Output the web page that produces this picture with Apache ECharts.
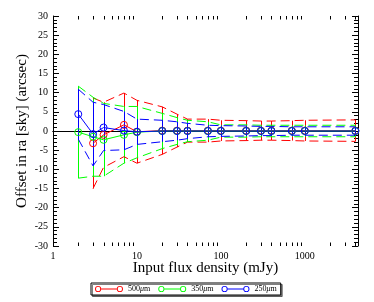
<!DOCTYPE html>
<html>
<head>
<meta charset="utf-8">
<script src="https://cdn.jsdelivr.net/npm/echarts@6/dist/echarts.min.js"></script>
<style>
html,body{margin:0;padding:0;background:#fff;}
#chart{width:374px;height:302px;}
</style>
</head>
<body>
<div id="chart"></div>
<script>
// ---- data ----
var fluxes = [2, 3, 4, 7, 10, 20, 30, 40, 70, 100, 200, 300, 400, 700, 1000, 4000];

var red500Offset = [null, -3.2, -1.0, 1.6, -0.2, 0.1, 0.1, 0.1, 0.1, 0.1, 0.1, 0.1, 0.1, 0.1, 0.1, 0.1];
var red500Error  = [null, 11.8, 8.5, 8.3, 8.2, 6.2, 4.3, 3.0, 3.0, 2.7, 2.6, 2.5, 2.5, 2.6, 2.7, 2.8];

var green350Offset = [-0.3, -1.5, -2.3, -1.0, -0.3, 0.0, 0.0, 0.0, 0.0, 0.0, 0.0, 0.0, 0.0, 0.0, 0.0, 0.0];
var green350Error  = [12.0, 10.3, 9.5, 7.4, 6.7, 4.6, 3.5, 2.8, 2.4, 1.6, 1.6, 1.5, 1.5, 1.5, 1.5, 1.5];

var blue250Offset = [4.4, -0.8, 0.9, 0.1, -0.2, 0.0, 0.0, 0.0, 0.0, 0.0, 0.0, 0.0, 0.0, 0.0, 0.0, 0.0];
var blue250Error  = [6.5, 8.3, 6.0, 5.0, 3.3, 2.8, 2.4, 2.0, 1.5, 1.4, 1.3, 1.2, 1.2, 1.1, 1.1, 1.1];

var seriesNames = ['500μm', '350μm', '250μm'];
var xMinorTicks = [2,3,4,5,6,7,8,9,20,30,40,50,60,70,80,90,200,300,400,500,600,700,800,900,2000,3000,4000];
var xMin = 1, xMax = 4300;
var yMin = -30, yMax = 30, yStep = 5, yMinorStep = 1;

// ---- build ----
var colors = ['#ff0000', '#00ff00', '#0000ff'];
var groups = [
  {name: seriesNames[0], val: red500Offset, err: red500Error},
  {name: seriesNames[1], val: green350Offset, err: green350Error},
  {name: seriesNames[2], val: blue250Offset, err: blue250Error}
];

function pts(arr) {
  return fluxes.map(function (x, i) { return [x, arr[i] == null ? null : arr[i]]; })
    .filter(function (p) { return p[1] != null; });
}

var series = [];
groups.forEach(function (g, k) {
  var c = colors[k];
  var errData = [], up = [], lo = [];
  fluxes.forEach(function (x, i) {
    if (g.val[i] == null) return;
    var hi = +(g.val[i] + g.err[i]).toFixed(2), lw = +(g.val[i] - g.err[i]).toFixed(2);
    errData.push([x, lw, hi]);
    up.push([x, hi]);
    lo.push([x, lw]);
  });
  series.push({
    type: 'custom', name: g.name + ' err', data: errData, silent: true,
    encode: {x: 0, y: [1, 2]},
    renderItem: function (params, api) {
      var a = api.coord([api.value(0), api.value(1)]);
      var b = api.coord([api.value(0), api.value(2)]);
      var x = Math.round(a[0]) + 0.5;
      return {type: 'line', shape: {x1: x, y1: a[1], x2: x, y2: b[1]},
        style: {stroke: c, lineWidth: 1}};
    }
  });
  [up, lo].forEach(function (d) {
    series.push({
      type: 'line', name: g.name + ' env', data: d, symbol: 'none', silent: true,
      lineStyle: {color: c, width: 1, type: [9, 5]}
    });
  });
});
groups.forEach(function (g, k) {
  series.push({
    type: 'line', name: g.name, data: pts(g.val),
    symbol: 'circle', symbolSize: 7,
    itemStyle: {color: 'rgba(255,255,255,0)', borderColor: colors[k], borderWidth: 1},
    lineStyle: {color: colors[k], width: 1}
  });
});
// minor ticks on log x axis (bottom & top)
series.push({
  type: 'custom', name: 'xminor', silent: true, clip: false,
  data: xMinorTicks.map(function (v) { return [v]; }),
  encode: {x: 0},
  renderItem: function (params, api) {
    var b = api.coord([api.value(0), yMin]);
    var t = api.coord([api.value(0), yMax]);
    var x = Math.round(b[0]) + 0.5;
    return {type: 'group', children: [
      {type: 'line', shape: {x1: x, y1: b[1], x2: x, y2: b[1] - 3.5}, style: {stroke: '#000', lineWidth: 1}},
      {type: 'line', shape: {x1: x, y1: t[1], x2: x, y2: t[1] + 3.5}, style: {stroke: '#000', lineWidth: 1}}
    ]};
  }
});

var iconPath = 'path://' +
  'M0.5,3.5a3,3 0 1,0 6,0a3,3 0 1,0 -6,0Z' +
  'M1.4,3.5a2.1,2.1 0 1,1 4.2,0a2.1,2.1 0 1,1 -4.2,0Z' +
  'M21.5,3.5a3,3 0 1,0 6,0a3,3 0 1,0 -6,0Z' +
  'M22.4,3.5a2.1,2.1 0 1,1 4.2,0a2.1,2.1 0 1,1 -4.2,0Z' +
  'M6.5,3L21.5,3L21.5,4L6.5,4Z';

var serif = 'Liberation Serif';

function logLabel(v) {
  var l = Math.log10(v);
  return Math.abs(l - Math.round(l)) < 1e-6 ? String(Math.round(v)) : '';
}

var gridRect = {left: 53, right: 16, top: 16, bottom: 56};

function minorY(pos) {
  return {type: 'value', gridIndex: 1, min: yMin, max: yMax, interval: yMinorStep, position: pos,
    axisLine: {show: false},
    axisTick: {show: true, inside: true, length: 4, lineStyle: {color: '#000'}},
    axisLabel: {show: false}, splitLine: {show: false}};
}

var option = {
  animation: false,
  backgroundColor: '#fff',
  grid: [gridRect, gridRect],
  legend: {
    data: seriesNames.map(function (n, k) {
      return {name: n, icon: iconPath, itemStyle: {color: colors[k], borderColor: colors[k], borderWidth: 0}};
    }),
    left: 91, top: 283,
    itemWidth: 28, itemHeight: 7, itemGap: 8,
    padding: [2, 4],
    borderColor: '#000', borderWidth: 1,
    backgroundColor: '#fff',
    shadowColor: 'rgba(0,0,0,0.5)', shadowOffsetX: 1.5, shadowOffsetY: 1.5, shadowBlur: 0,
    textStyle: {fontFamily: serif, fontSize: 8, color: '#000',
      rich: {i: {fontFamily: serif, fontStyle: 'italic', fontSize: 8, color: '#000'}}},
    formatter: function (n) { return n.replace('μ', '{i|μ}'); },
    selectedMode: false
  },
  xAxis: [
    {type: 'log', logBase: 10, min: xMin, max: xMax, position: 'bottom',
     name: 'Input flux density (mJy)', nameLocation: 'middle', nameGap: 15, nameMoveOverlap: false,
     nameTextStyle: {fontFamily: serif, fontSize: 15, color: '#000'},
     axisLine: {lineStyle: {color: '#000', width: 1}},
     axisTick: {inside: true, length: 6, lineStyle: {color: '#000'}},
     axisLabel: {formatter: logLabel, margin: 5, color: '#000', fontFamily: serif, fontSize: 10},
     splitLine: {show: false}},
    {type: 'log', logBase: 10, min: xMin, max: xMax, position: 'top',
     axisLine: {lineStyle: {color: '#000', width: 1}},
     axisTick: {inside: true, length: 6, lineStyle: {color: '#000'}},
     axisLabel: {show: false}, splitLine: {show: false}},
    {type: 'value', gridIndex: 1, min: 0, max: 1, show: false}
  ],
  yAxis: [
    {type: 'value', min: yMin, max: yMax, interval: yStep, position: 'left',
     name: 'Offset in ra [sky] (arcsec)', nameLocation: 'middle', nameGap: 23, nameMoveOverlap: false,
     nameTextStyle: {fontFamily: serif, fontSize: 15, color: '#000'},
     axisLine: {show: true, lineStyle: {color: '#000', width: 1}},
     axisTick: {show: true, inside: true, length: 6, lineStyle: {color: '#000'}},
     axisLabel: {margin: 5, color: '#000', fontFamily: serif, fontSize: 10},
     splitLine: {show: false}},
    {type: 'value', min: yMin, max: yMax, interval: yStep, position: 'right',
     axisLine: {show: true, lineStyle: {color: '#000', width: 1}},
     axisTick: {show: true, inside: true, length: 6, lineStyle: {color: '#000'}},
     axisLabel: {show: false}, splitLine: {show: false}},
    minorY('left'),
    minorY('right')
  ],
  series: series
};

var chart = echarts.init(document.getElementById('chart'), null, {renderer: 'canvas'});
chart.setOption(option);
</script>
</body>
</html>
